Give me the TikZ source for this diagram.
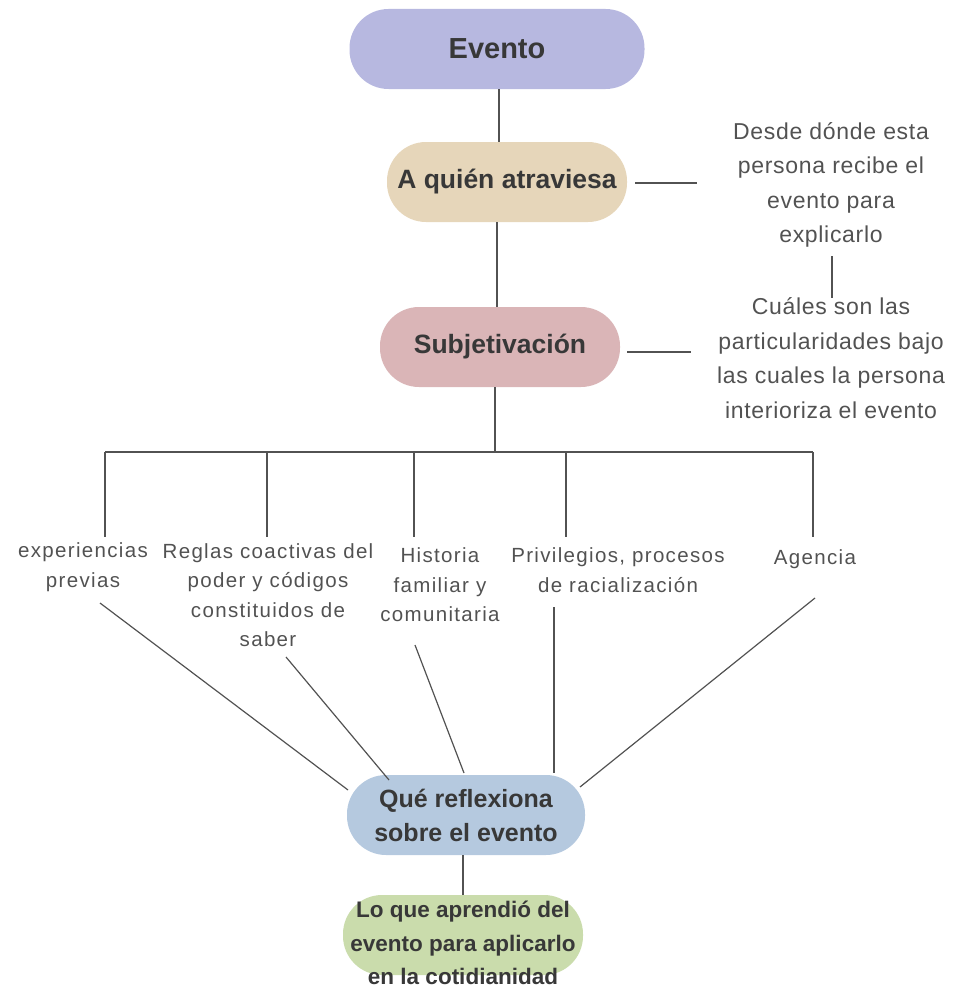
\documentclass[tikz,border=0pt]{standalone}
\usepackage{fontspec}
\setmainfont{Liberation Sans}
\newfontfamily\notefont[LetterSpace=3]{Liberation Sans}
\newfontfamily\branchfont[LetterSpace=6.5]{Liberation Sans}
\begin{document}
\begin{tikzpicture}[x=1pt,y=-1pt,
  pill/.style={rounded corners=39pt, minimum height=80pt, inner sep=0pt, draw=none},
  headtxt/.style={text=black!78, align=center},
  note/.style={font=\notefont\fontsize{23}{34.5}\selectfont, text=black!68, align=center, inner sep=1pt},
  branch/.style={font=\branchfont\fontsize{20.5}{29.5}\selectfont, text=black!68, align=center, inner sep=1pt},
  link/.style={draw=black!68, line width=1.2pt}]
\useasboundingbox (0,0) rectangle (968,990);
\definecolor{cEvento}{HTML}{B7B8E0}
\definecolor{cQuien}{HTML}{E6D6BA}
\definecolor{cSubj}{HTML}{DAB5B7}
\definecolor{cRefl}{HTML}{B5C9DF}
\definecolor{cLearn}{HTML}{CADCAC}

% main chain
\node[pill, fill=cEvento, minimum width=295pt, headtxt, font=\bfseries\fontsize{29}{34}\selectfont] (evento) at (497,49) {Evento};
\node[pill, fill=cQuien, minimum width=240pt, headtxt, font=\bfseries\fontsize{26.5}{34}\selectfont] (quien) at (507,182) {A quién atraviesa};
\node[pill, fill=cSubj, minimum width=240pt, headtxt, font=\bfseries\fontsize{26.5}{34}\selectfont] (subj) at (500,347) {Subjetivación};
\node[pill, fill=cRefl, minimum width=238pt, headtxt, font=\bfseries\fontsize{25}{34}\selectfont] (refl) at (466,815) {Qué reflexiona\\sobre el evento};
\node[pill, fill=cLearn, minimum width=240pt] (learn) at (463,935) {};
\node[headtxt, inner sep=0pt, font=\bfseries\fontsize{22.5}{33.5}\selectfont] (learntxt) at (463,943) {Lo que aprendió del\\evento para aplicarlo\\en la cotidianidad};

% notes on the right
\node[note] (desde) at (831,185) {Desde dónde esta\\persona recibe el\\evento para\\explicarlo};
\node[note] (cuales) at (831,358) {Cuáles son las\\particularidades bajo\\las cuales la persona\\interioriza el evento};

% branch labels
\node[branch] (exp) at (83,567) {experiencias\\previas};
\node[branch] (reglas) at (268,595) {Reglas coactivas del\\poder y códigos\\constituidos de\\saber};
\node[branch] (hist) at (440,585) {Historia\\familiar y\\comunitaria};
\node[branch] (priv) at (618,570) {Privilegios, procesos\\de racialización};
\node[branch] (agen) at (815,559) {Agencia};

\coordinate (bar) at (495,452);
\coordinate (dExp) at (105,452);
\coordinate (dReg) at (267,452);
\coordinate (dHis) at (414,452);
\coordinate (dPri) at (566,452);
\coordinate (dAge) at (813,452);
\coordinate (qEnd) at (697,183);
\coordinate (sEnd) at (691,352);

% connectors
\draw[link] (evento.south -| 499,0) -- (quien.north -| 499,0);
\draw[link] (quien.south -| 497,0) -- (subj.north -| 497,0);
\draw[link] (635,183) -- (qEnd);
\draw[link] (627,352) -- (sEnd);
\draw[link] (832,256) -- (832,298);
\draw[link] (subj.south -| bar) -- (bar);
\draw[link] (dExp) -- (dAge);
\draw[link] (dExp) -- (105,537);
\draw[link] (dReg) -- (267,537);
\draw[link] (dHis) -- (414,537);
\draw[link] (dPri) -- (566,537);
\draw[link] (dAge) -- (813,537);

\draw[link] (100,603) -- (348,790);
\draw[link] (286,657) -- (389,780);
\draw[link] (415,645) -- (464,773);
\draw[link] (554,607) -- (554,773);
\draw[link] (815,598) -- (580,787);
\draw[link] (refl.south -| 463,0) -- (learn.north -| 463,0);
\end{tikzpicture}
\end{document}
